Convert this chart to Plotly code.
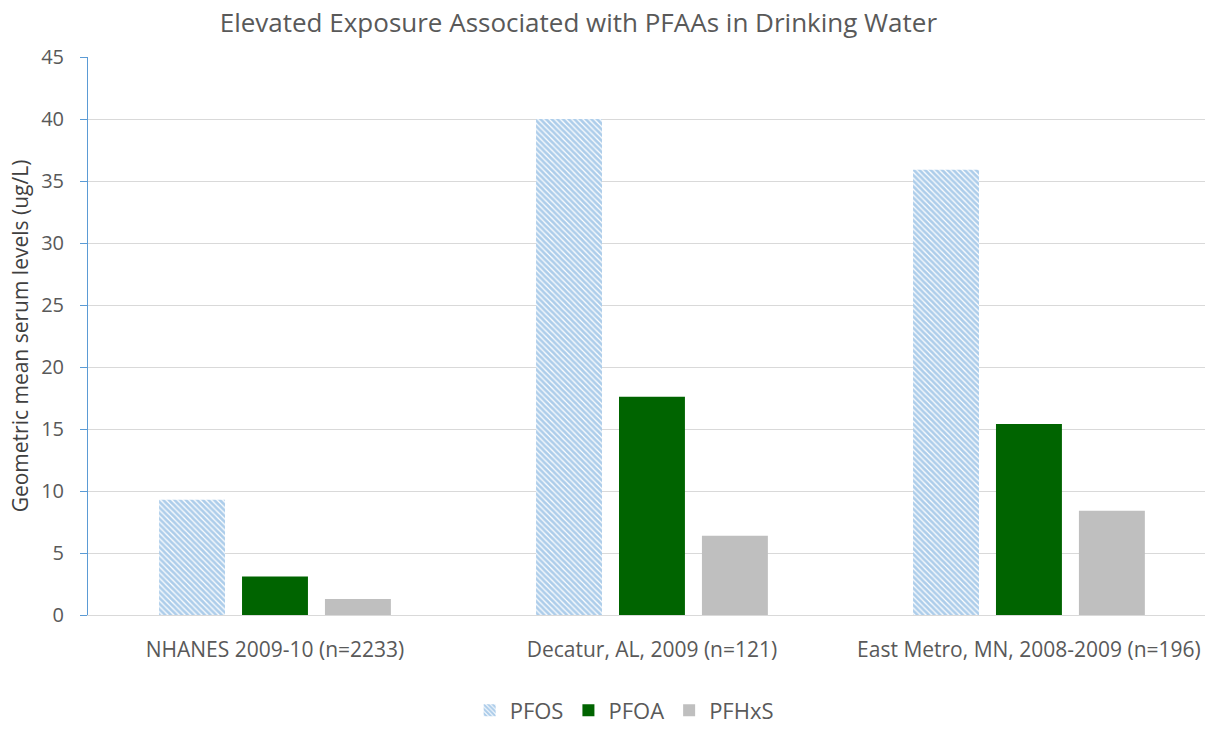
import plotly.graph_objects as go

# Study populations and geometric mean serum concentrations (ug/L)
categories = ["NHANES 2009-10 (n=2233)", "Decatur, AL, 2009 (n=121)", "East Metro, MN, 2008-2009 (n=196)"]
pfos = [9.3, 40.0, 35.9]
pfoa = [3.1, 17.6, 15.4]
pfhxs = [1.3, 6.4, 8.4]
y_ticks = [0, 5, 10, 15, 20, 25, 30, 35, 40, 45]

FONT = "'Open Sans', sans-serif"
TEXT = "#595959"
BLUE = "#5B9BD5"

fig = go.Figure()
fig.add_trace(go.Bar(
    name="PFOS", x=categories, y=pfos,
    marker=dict(color="white", line=dict(width=0),
                pattern=dict(shape="\\", fgcolor=BLUE, bgcolor="white",
                             size=4, solidity=0.7, fillmode="overlay")),
))
fig.add_trace(go.Bar(name="PFOA", x=categories, y=pfoa,
                     marker=dict(color="#006400", line=dict(width=0))))
fig.add_trace(go.Bar(name="PFHxS", x=categories, y=pfhxs,
                     marker=dict(color="#BFBFBF", line=dict(width=0))))

fig.update_layout(
    width=1205, height=731,
    margin=dict(l=88, r=0, t=57, b=116),
    paper_bgcolor="white", plot_bgcolor="white",
    barmode="group", bargap=0.34, bargroupgap=0.205,
    font=dict(family=FONT, color=TEXT),
    title=dict(text="Elevated Exposure Associated with PFAAs in Drinking Water",
               x=0.48, xanchor="center", y=0.968, yanchor="middle",
               font=dict(size=26, color=TEXT, family=FONT)),
    xaxis=dict(type="category", range=[-0.496, 2.467], automargin=False,
               showline=True, linecolor="#D9D9D9", linewidth=1,
               showgrid=False, ticks="", tickfont=dict(size=21, color=TEXT),
               ticklabelstandoff=16),
    yaxis=dict(range=[0, 45], tickvals=y_ticks, showgrid=True, gridcolor="#D9D9D9",
               gridwidth=1, zeroline=False, automargin=False,
               showline=True, linecolor=BLUE, linewidth=1,
               ticks="outside", tickcolor=BLUE, ticklen=7, tickwidth=1,
               ticklabelstandoff=12,
               tickfont=dict(size=20, color=TEXT),
               title=dict(text="Geometric mean serum levels (ug/L)",
                          font=dict(size=21, color="#404040"), standoff=6)),
    legend=dict(orientation="h", x=0.48, xanchor="center",
                yref="container", y=0.028, yanchor="middle",
                font=dict(size=22, color=TEXT), itemwidth=30, traceorder="normal"),
)

fig.write_html("out.html")
